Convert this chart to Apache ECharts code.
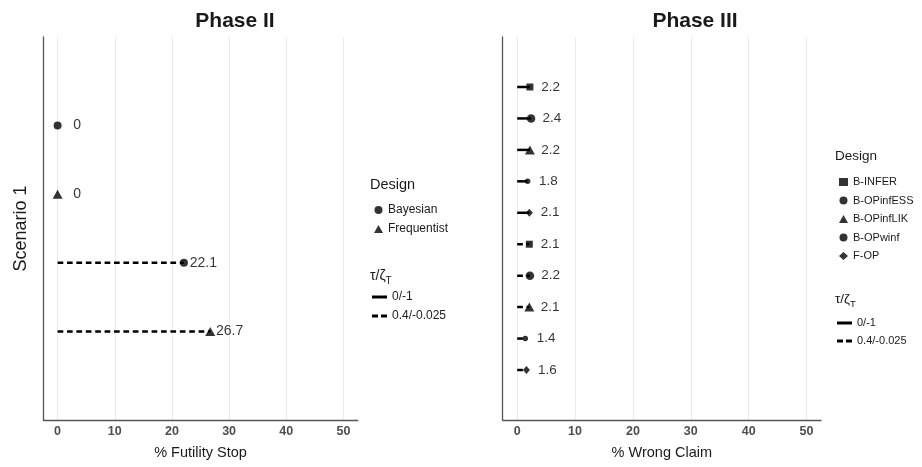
<!DOCTYPE html>
<html><head><meta charset="utf-8">
<script src="https://cdn.jsdelivr.net/npm/echarts@6/dist/echarts.min.js"></script>
<style>html,body{margin:0;padding:0;background:#fff}#c{width:922px;height:467px}</style>
</head><body><div id="c"></div>
<script>
// ---------- data ----------
const xTicks = [0, 10, 20, 30, 40, 50];
const settingNames = ['0/-1', '0.4/-0.025'];

const p2DesignNames = ['Bayesian', 'Frequentist'];
const p2Designs = ['Bayesian', 'Frequentist', 'Bayesian', 'Frequentist'];
const p2Settings = ['0/-1', '0/-1', '0.4/-0.025', '0.4/-0.025'];
const p2Values = [0, 0, 22.1, 26.7];

const p3DesignNames = ['B-INFER', 'B-OPinfESS', 'B-OPinfLIK', 'B-OPwinf', 'F-OP'];
const p3Designs = ['B-INFER', 'B-OPinfESS', 'B-OPinfLIK', 'B-OPwinf', 'F-OP',
                   'B-INFER', 'B-OPinfESS', 'B-OPinfLIK', 'B-OPwinf', 'F-OP'];
const p3Settings = ['0/-1', '0/-1', '0/-1', '0/-1', '0/-1',
                    '0.4/-0.025', '0.4/-0.025', '0.4/-0.025', '0.4/-0.025', '0.4/-0.025'];
const p3Values = [2.2, 2.4, 2.2, 1.8, 2.1, 2.1, 2.2, 2.1, 1.4, 1.6];

// ---------- styles ----------
const FONT = '"Liberation Sans", Arial, Helvetica, sans-serif';
const symbolFor = { 'Bayesian': 'circle', 'Frequentist': 'triangle', 'B-INFER': 'rect',
  'B-OPinfESS': 'circle', 'B-OPinfLIK': 'triangle', 'B-OPwinf': 'circle', 'F-OP': 'diamond' };
const sizeFor = { 'Bayesian': 8, 'Frequentist': [10, 9], 'B-INFER': 7, 'B-OPinfESS': 8.5,
  'B-OPinfLIK': [10, 9], 'B-OPwinf': 5.5, 'F-OP': [7, 8] };
const dashFor = { '0/-1': null, '0.4/-0.025': [5.7, 3.7] };
const iconFor = { '0/-1': 'path://M0,0h15v3h-15z', '0.4/-0.025': 'path://M0,0h6v3h-6zM9,0h6v3h-6z' };

function panelSeries(idx, designNames, designs, settings, values, nudge, labelSize) {
  const out = [];
  settingNames.forEach(s => {
    const data = [];
    values.forEach((v, r) => { if (settings[r] === s) data.push([v, r]); });
    out.push({
      type: 'custom', name: s, xAxisIndex: idx, yAxisIndex: idx, silent: true,
      itemStyle: { color: '#000' },
      data: data,
      renderItem: (params, api) => {
        const p0 = api.coord([0, api.value(1)]);
        const p1 = api.coord([api.value(0), api.value(1)]);
        return { type: 'line', shape: { x1: p0[0], y1: p0[1], x2: p1[0], y2: p1[1] },
          style: { stroke: '#000', lineWidth: 2.5, lineDash: dashFor[s], lineCap: 'butt' } };
      }
    });
  });
  designNames.forEach(d => {
    const data = [];
    values.forEach((v, r) => { if (designs[r] === d) data.push([v, r]); });
    out.push({
      type: 'scatter', name: d, xAxisIndex: idx, yAxisIndex: idx, silent: true,
      symbol: symbolFor[d], symbolSize: sizeFor[d],
      itemStyle: { color: '#000' }, data: data, z: 3
    });
  });
  out.push({
    type: 'scatter', name: 'labels' + idx, xAxisIndex: idx, yAxisIndex: idx, silent: true,
    symbolSize: 0, itemStyle: { color: 'transparent' },
    data: values.map((v, r) => [v + nudge, r, String(v)]),
    label: { show: true, position: 'inside', formatter: p => p.value[2],
      fontSize: labelSize, color: '#000', fontFamily: FONT }
  });
  return out;
}

function xAxisFor(idx, name) {
  return {
    type: 'value', gridIndex: idx, min: -2.5, max: 52.5,
    axisLine: { show: true, onZero: false, lineStyle: { color: '#555', width: 1.3 } },
    axisTick: { show: false, customValues: xTicks },
    axisLabel: { customValues: xTicks, fontWeight: 'bold', color: '#4d4d4d', fontSize: 12.5,
      margin: 5, fontFamily: FONT },
    splitLine: { show: true, lineStyle: { color: '#ebebeb', width: 1 } },
    name: name, nameLocation: 'middle', nameGap: 25,
    nameTextStyle: { fontSize: 14.5, color: '#1a1a1a', fontFamily: FONT }
  };
}
function yAxisFor(idx, min, max, name) {
  return {
    type: 'value', gridIndex: idx, min: min, max: max, inverse: true,
    axisLine: { show: true, onZero: false, lineStyle: { color: '#555', width: 1.3 } },
    axisTick: { show: false }, axisLabel: { show: false }, splitLine: { show: false },
    name: name || '', nameLocation: 'middle', nameGap: 13,
    nameTextStyle: { fontSize: 18, color: '#1a1a1a', fontFamily: FONT }
  };
}

function designLegend(names, left, top, fontSize, gap) {
  return {
    orient: 'vertical', left: left, top: top, padding: 0, selectedMode: false,
    itemWidth: 9, itemHeight: 8, itemGap: gap, itemTextGap: 12,
    data: names.map(n => ({ name: n, icon: symbolFor[n] })),
    textStyle: { fontSize: fontSize, color: '#1a1a1a', fontFamily: FONT, lineHeight: 12 }
  };
}
function lineLegend(left, top, fontSize, gap) {
  return {
    orient: 'vertical', left: left, top: top, padding: 0, selectedMode: false,
    itemWidth: 15, itemHeight: 3, itemGap: gap, itemTextGap: 8,
    data: settingNames.map(n => ({ name: n, icon: iconFor[n] })),
    textStyle: { fontSize: fontSize, color: '#1a1a1a', fontFamily: FONT, lineHeight: 12 }
  };
}
function tauTitle(x, y, size) {
  return { type: 'text', x: x, y: y, silent: true,
    style: { text: '{a|τ/ζ}{b|T}', verticalAlign: 'middle', fill: '#1a1a1a', font: size + 'px ' + FONT,
      rich: { a: { fontSize: size, lineHeight: 20, fontFamily: FONT, fill: '#1a1a1a' },
              b: { fontSize: size - 4, lineHeight: 11, verticalAlign: 'bottom', fontFamily: FONT, fill: '#1a1a1a' } } } };
}
function plainText(x, y, text, size, weight, align) {
  return { type: 'text', x: x, y: y, silent: true,
    style: { text: text, align: align || 'left', verticalAlign: 'middle', fill: '#1a1a1a',
      font: (weight || 'normal') + ' ' + size + 'px ' + FONT } };
}

const chart = echarts.init(document.getElementById('c'), null, { renderer: 'canvas' });
chart.setOption({
  animation: false,
  backgroundColor: '#fff',
  grid: [
    { left: 43.3, top: 37, width: 314.4, height: 383 },
    { left: 502.7, top: 37, width: 318.3, height: 383 }
  ],
  xAxis: [xAxisFor(0, '% Futility Stop'), xAxisFor(1, '% Wrong Claim')],
  yAxis: [yAxisFor(0, -1.29, 4.29, 'Scenario 1'), yAxisFor(1, -1.59, 10.59)],
  legend: [
    designLegend(p2DesignNames, 374, 204, 12, 7),
    lineLegend(372, 291, 12, 7),
    designLegend(p3DesignNames, 839, 176, 11, 6.5),
    lineLegend(837, 317, 11, 6)
  ],
  graphic: [
    plainText(235, 21, 'Phase II', 21, 'bold', 'center'),
    plainText(695, 21, 'Phase III', 21, 'bold', 'center'),
    plainText(370, 185, 'Design', 14.5),
    tauTitle(370, 276, 14),
    plainText(835, 156, 'Design', 13.5),
    tauTitle(835, 299, 13.5)
  ],
  series: [
    ...panelSeries(0, p2DesignNames, p2Designs, p2Settings, p2Values, 3.4, 14),
    ...panelSeries(1, p3DesignNames, p3Designs, p3Settings, p3Values, 3.6, 13.5)
  ]
});
</script></body></html>
